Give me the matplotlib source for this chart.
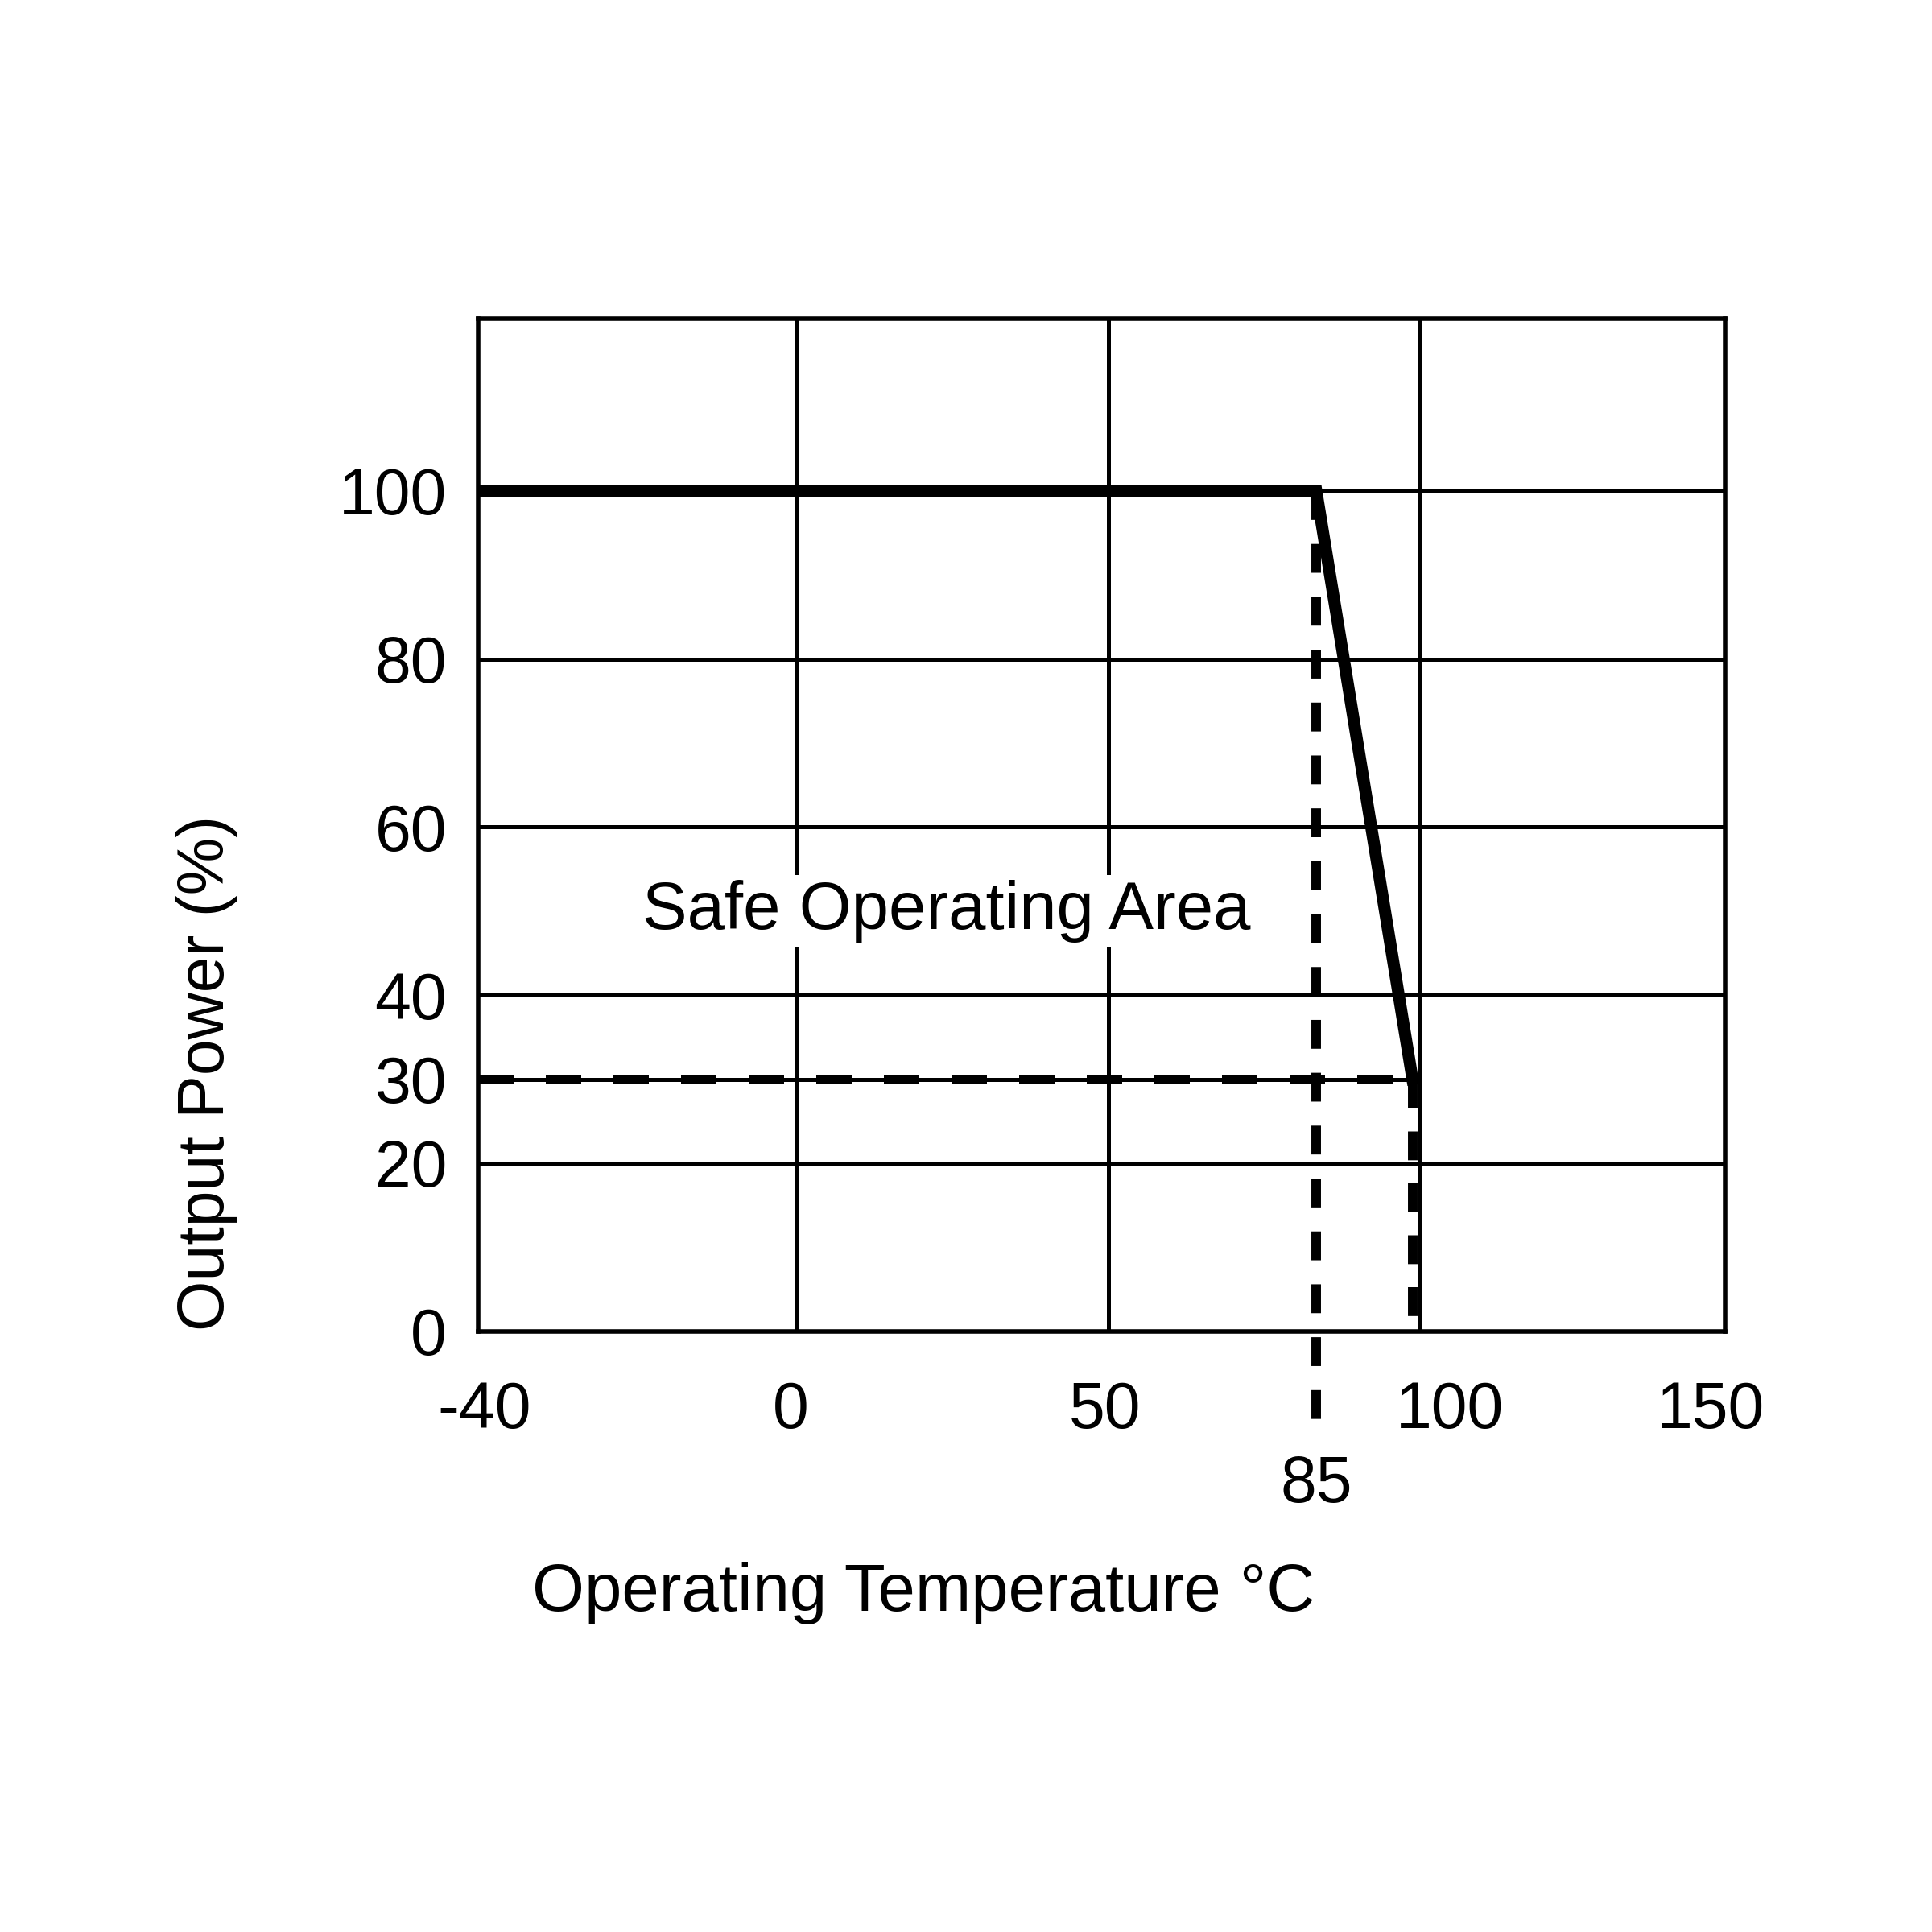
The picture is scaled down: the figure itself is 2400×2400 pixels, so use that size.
import numpy as np
import matplotlib
matplotlib.use("Agg")
import matplotlib.pyplot as plt
from matplotlib.transforms import ScaledTranslation

plt.rcParams['font.family'] = ['Liberation Sans', 'DejaVu Sans']

# derating curve
temp = [-40, 85, 99]
power = [100, 100, 30]

# reference lines
knee_temp = 85
end_temp = 99
min_power = 30

x_ticks = [-40, 0, 50, 100, 150]
y_ticks = [0, 20, 30, 40, 60, 80, 100]
y_grid = [20, 40, 60, 80, 100]

# the temperature axis of the drawing is hand spaced: piecewise linear
knots = np.array([-40, 0, 50, 85, 100, 150], dtype=float)
slots = np.array([0, 396, 783, 1041, 1169, 1549], dtype=float)

# small horizontal nudges of the tick labels (points)
x_label_shift = [2.9, -2.9, -1.7, 13.7, -6.5]


def fwd(x):
    return np.interp(x, knots, slots, left=-np.inf, right=np.inf)


def inv(s):
    return np.interp(s, slots, knots)


fig = plt.figure(figsize=(12, 12), dpi=200)
ax = fig.add_axes([0.2475, 0.311, 0.6455, 0.524])
ax.set_xscale('function', functions=(fwd, inv))
ax.set_xlim(-40, 150)
ax.set_ylim(0, 120.5)

for y in y_grid:
    ax.axhline(y, color='black', lw=1.8, zorder=1)
for x in x_ticks[1:-1]:
    ax.axvline(x, color='black', lw=1.8, zorder=1)

# lower limit line at 30 %
ax.plot([-40, end_temp], [min_power, min_power], color='black', lw=1.8, zorder=2)
ax.plot([-40, end_temp], [min_power, min_power], color='black', lw=3.6,
        dashes=(4.4, 4.0), zorder=2)

# vertical markers
ax.plot([knee_temp, knee_temp], [100, -12.8], color='black', lw=4.3,
        dashes=(3, 2.5), clip_on=False, zorder=3)
ax.plot([end_temp, end_temp], [min_power, 0], color='black', lw=4.3,
        dashes=(3, 2.4), zorder=3)

ax.plot(temp, power, color='black', lw=5.4, solid_joinstyle='miter', zorder=4)

ax.text(24.0, 50.0, 'Safe Operating Area', fontsize=30, ha='center', va='center',
        bbox=dict(facecolor='white', edgecolor='none', pad=2), zorder=5)

ax.set_xticks(x_ticks)
ax.set_xticklabels([str(v) for v in x_ticks])
ax.set_yticks(y_ticks)
ax.set_yticklabels([str(v) for v in y_ticks])
ax.tick_params(axis='both', length=0, labelsize=29)
ax.tick_params(axis='x', pad=22)
ax.tick_params(axis='y', pad=14)
for lab, dx in zip(ax.get_xticklabels(), x_label_shift):
    lab.set_transform(lab.get_transform() + ScaledTranslation(dx / 72, 0, fig.dpi_scale_trans))
for s in ax.spines.values():
    s.set_linewidth(2.0)

ax.text(knee_temp, -0.152, '85', transform=ax.get_xaxis_transform(),
        fontsize=29, ha='center', va='center')

fig.text(257 / 2400, 0.4446, 'Output Power (%)', rotation=90, fontsize=29,
         ha='center', va='center')
fig.text(1147 / 2400, 0.1754, 'Operating Temperature °C', fontsize=30,
         ha='center', va='center')

fig.savefig('out.png', dpi=200, facecolor='white')
